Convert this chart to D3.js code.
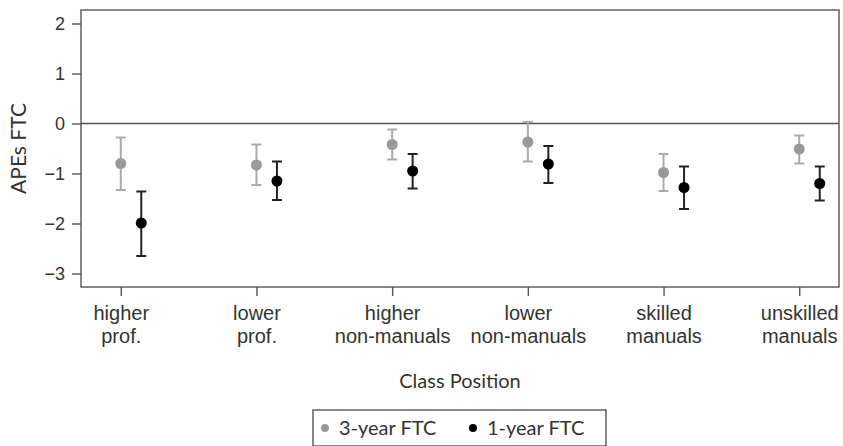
<!DOCTYPE html>
<html>
<head>
<meta charset="utf-8">
<script src="https://cdn.jsdelivr.net/npm/d3@7"></script>
<style>
  body { margin: 0; background: #fff; }
  svg { display: block; font-family: Lato, "Open Sans", sans-serif; }
  .axis text { fill: #333; font-size: 18px; }
  .axis .xlab { font-size: 20px; }
  .axis path, .axis line { stroke: #555; stroke-width: 1.4; }
</style>
</head>
<body>
<svg id="chart" width="843" height="446"></svg>
<script>
const categories = ['higher prof.', 'lower prof.', 'higher non-manuals', 'lower non-manuals', 'skilled manuals', 'unskilled manuals'];
const categoryLines = [['higher', 'prof.'], ['lower', 'prof.'], ['higher', 'non-manuals'], ['lower', 'non-manuals'], ['skilled', 'manuals'], ['unskilled', 'manuals']];

// 3-year FTC: estimate, lower and upper bound
const ftc3 = [-0.80, -0.83, -0.42, -0.37, -0.98, -0.51];
const ftc3Lo = [-1.33, -1.23, -0.72, -0.76, -1.35, -0.80];
const ftc3Hi = [-0.28, -0.42, -0.12, 0.03, -0.61, -0.24];

// 1-year FTC
const ftc1 = [-1.99, -1.15, -0.95, -0.81, -1.28, -1.20];
const ftc1Lo = [-2.65, -1.53, -1.30, -1.19, -1.71, -1.54];
const ftc1Hi = [-1.36, -0.76, -0.61, -0.45, -0.86, -0.86];

const yTicks = [-3, -2, -1, 0, 1, 2];

const margin = { top: 10, right: 4, bottom: 159, left: 81 };
const width = 843 - margin.left - margin.right;
const height = 446 - margin.top - margin.bottom;

const svg = d3.select('#chart');
const g = svg.append('g').attr('transform', `translate(${margin.left},${margin.top})`);

const x = d3.scalePoint().domain(categories).range([0, width]).padding(0.293);
const y = d3.scaleLinear().domain([-3.27, 2.27]).range([height, 0]);

const series = [
  { name: '3-year FTC', est: ftc3, lo: ftc3Lo, hi: ftc3Hi, dot: '#999', bar: '#aaa', dx: 0 },
  { name: '1-year FTC', est: ftc1, lo: ftc1Lo, hi: ftc1Hi, dot: '#000', bar: '#222', dx: 20.5 },
];

// frame
g.append('rect')
  .attr('width', width)
  .attr('height', height)
  .attr('fill', 'none')
  .attr('stroke', '#555')
  .attr('stroke-width', 1.4);

// zero line
g.append('line')
  .attr('x1', 0).attr('x2', width)
  .attr('y1', y(0)).attr('y2', y(0))
  .attr('stroke', '#555')
  .attr('stroke-width', 1.4);

// y axis
const yAxis = g.append('g')
  .attr('class', 'axis')
  .call(d3.axisLeft(y).tickValues(yTicks).tickSize(9).tickPadding(7).tickFormat(d => d < 0 ? '\u2212' + Math.abs(d) : d));
yAxis.select('.domain').remove();

// x axis
const xAxis = g.append('g')
  .attr('class', 'axis')
  .attr('transform', `translate(0,${height})`)
  .call(d3.axisBottom(x).tickSize(9).tickFormat(''));
xAxis.select('.domain').remove();

xAxis.selectAll('.tick')
  .append('text')
  .attr('class', 'xlab')
  .attr('text-anchor', 'middle')
  .attr('y', 33)
  .selectAll('tspan')
  .data((d, i) => categoryLines[i])
  .enter()
  .append('tspan')
  .attr('x', 0)
  .attr('dy', (d, i) => i === 0 ? 0 : 23)
  .text(d => d);

// error bars and points
series.forEach(s => {
  const sg = g.append('g').attr('class', 'series');
  const rows = categories.map((c, i) => ({ c, est: s.est[i], lo: s.lo[i], hi: s.hi[i] }));
  const items = sg.selectAll('g').data(rows).enter().append('g')
    .attr('transform', d => `translate(${x(d.c) + s.dx},0)`);

  items.append('line')
    .attr('y1', d => y(d.lo)).attr('y2', d => y(d.hi))
    .attr('stroke', s.bar).attr('stroke-width', 2);
  items.append('line')
    .attr('x1', -5).attr('x2', 5)
    .attr('y1', d => y(d.hi)).attr('y2', d => y(d.hi))
    .attr('stroke', s.bar).attr('stroke-width', 2);
  items.append('line')
    .attr('x1', -5).attr('x2', 5)
    .attr('y1', d => y(d.lo)).attr('y2', d => y(d.lo))
    .attr('stroke', s.bar).attr('stroke-width', 2);
  items.append('circle')
    .attr('cy', d => y(d.est))
    .attr('r', 5.5)
    .attr('fill', s.dot);
});

// axis titles
svg.append('text')
  .attr('transform', `translate(26,${margin.top + height / 2}) rotate(-90)`)
  .attr('text-anchor', 'middle')
  .attr('fill', '#333')
  .style('font-size', '21px')
  .text('APEs FTC');

svg.append('text')
  .attr('x', margin.left + width / 2)
  .attr('y', 388)
  .attr('text-anchor', 'middle')
  .attr('fill', '#333')
  .style('font-size', '20px')
  .text('Class Position');

// legend
const legend = svg.append('g').attr('transform', 'translate(313,410)');
legend.append('rect')
  .attr('width', 293)
  .attr('height', 36)
  .attr('fill', 'none')
  .attr('stroke', '#555')
  .attr('stroke-width', 1.4);

const legendItems = legend.selectAll('g.item')
  .data(series)
  .enter()
  .append('g')
  .attr('class', 'item')
  .attr('transform', (d, i) => `translate(${12 + i * 148},18)`);
legendItems.append('circle')
  .attr('r', 4)
  .attr('fill', d => d.dot);
legendItems.append('text')
  .attr('x', 14)
  .attr('y', 7)
  .attr('fill', '#333')
  .style('font-size', '20px')
  .text(d => d.name);
</script>
</body>
</html>
